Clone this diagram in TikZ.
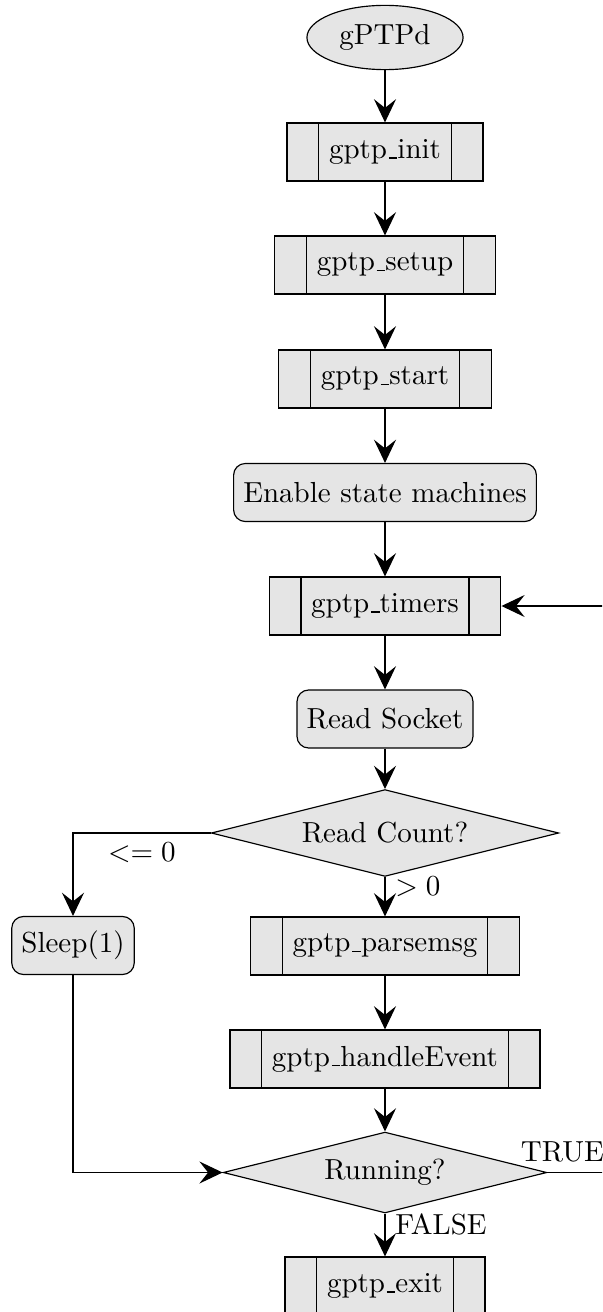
\documentclass[tikz,border=0pt]{standalone}
\usetikzlibrary{shapes.geometric,arrows.meta}

% short, raised underscore rule in the classic text style
\newcommand{\usc}{\leavevmode\kern.06em\vbox{\hrule width.3em}}

\tikzset{
  base/.style={draw, fill=gray!20},
  terminal/.style={base, ellipse},
  action/.style={base, rectangle, rounded corners=4pt, minimum height=20pt},
  subproc/.style={base, rectangle, minimum height=20pt, inner xsep=14.5pt,
    path picture={
      \draw ([xshift=11pt]path picture bounding box.north west)
         -- ([xshift=11pt]path picture bounding box.south west);
      \draw ([xshift=-11pt]path picture bounding box.north east)
         -- ([xshift=-11pt]path picture bounding box.south east);
    }},
  decision/.style={base, diamond, aspect=4},
  flow/.style={-{Stealth[length=8pt,width=7.6pt,inset=3pt]}},
}

\begin{document}
\begin{tikzpicture}[x=0.3448pt, y=-0.3448pt]
  \useasboundingbox (0,0) rectangle (602,1312);
  \clip (0,0) rectangle (602,1312);

  % main column
  \node[terminal] (start)  at (385,37.5)  {gPTPd};
  \node[subproc]  (init)   at (385,152)   {gptp\usc init};
  \node[subproc]  (setup)  at (385,265)   {gptp\usc setup};
  \node[subproc]  (run0)   at (385,379)   {gptp\usc start};
  \node[action]   (enable) at (385,492.5) {Enable state machines};
  \node[subproc]  (timers) at (385,606)   {gptp\usc timers};
  \node[action]   (sock)   at (385,719)   {Read Socket};
  \node[decision] (rc)     at (385,833)   {Read Count?};
  \node[subproc]  (parse)  at (385,946)   {gptp\usc parsemsg};
  \node[subproc]  (handle) at (385,1059)  {gptp\usc handleEvent};
  \node[decision] (run)    at (385,1172.5){Running?};
  \node[subproc]  (exit)   at (385,1286)  {gptp\usc exit};

  % side branch
  \node[action]   (sleep)  at (73,945.5)  {Sleep(1)};

  % loop-back corner
  \coordinate (loopR) at (607,1172.5);

  \draw[flow] (start) -- (init);
  \draw[flow] (init) -- (setup);
  \draw[flow] (setup) -- (run0);
  \draw[flow] (run0) -- (enable);
  \draw[flow] (enable) -- (timers);
  \draw[flow] (timers) -- (sock);
  \draw[flow] (sock) -- (rc);
  \draw[flow] (rc.west) -| node[below, pos=0.25] {$<= 0$} (sleep.north);
  \draw[flow] (rc.south) -- node[right, near start] {$> 0$} (parse.north);
  \draw[flow] (parse) -- (handle);
  \draw[flow] (handle) -- (run);
  \draw[flow] (sleep.south) |- (run.west);
  \draw[flow] (run.south) -- node[right, near start] {FALSE} (exit.north);
  \draw[flow] (run.east) -- node[above, near start] {TRUE} (loopR) |- (timers.east);
\end{tikzpicture}
\end{document}
